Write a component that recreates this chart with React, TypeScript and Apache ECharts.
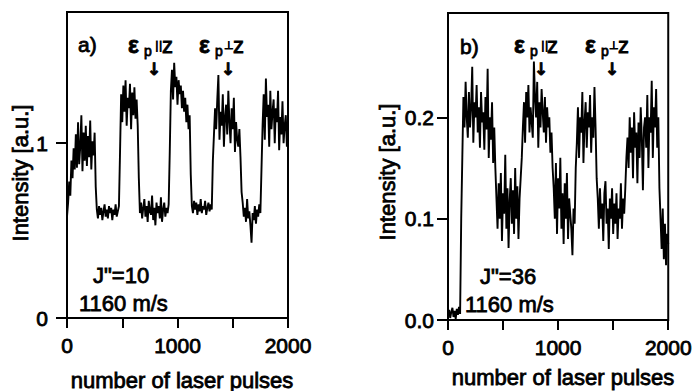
import React, { useEffect, useRef } from "react";
import * as echarts from "echarts";

// Sampling step of the traces (laser pulses between points)
const pulseStep = 10;

// Panel a) J"=10 — intensity every 10 pulses (0..2000)
const intensityA: number[] = [
  0.58, 0.66, 0.78, 0.7, 0.9, 0.8, 0.97, 0.85, 1.05, 0.86, 1.12, 0.88, 0.98, 1.16, 0.84, 1.06, 0.9, 1.1, 0.87, 1.04, 0.92, 1.13, 0.85, 1.01, 0.93, 1.06,
  0.75,
  0.62, 0.57, 0.64, 0.59, 0.63, 0.56, 0.61, 0.65, 0.58, 0.62, 0.57, 0.64, 0.6, 0.63, 0.56, 0.62, 0.59, 0.65, 0.58, 0.61, 0.64,
  0.95,
  1.28, 1.12, 1.33, 1.18, 1.36, 1.1, 1.26, 1.2, 1.34, 1.08, 1.29, 1.16, 1.32, 1.14, 1.25, 1.1,
  0.8,
  0.6, 0.66, 0.57, 0.63, 0.68, 0.58, 0.64, 0.55, 0.67, 0.61, 0.59, 0.7, 0.56, 0.63, 0.53, 0.66, 0.6, 0.64, 0.57, 0.69, 0.55, 0.62, 0.66, 0.58, 0.63, 0.6, 0.65,
  0.95,
  1.3, 1.42, 1.25, 1.46, 1.32, 1.38, 1.22, 1.36, 1.28, 1.33, 1.2, 1.3, 1.18, 1.26, 1.12, 1.22, 1.08, 1.16,
  0.82,
  0.64, 0.6, 0.67, 0.62, 0.66, 0.59, 0.65, 0.61, 0.68, 0.6, 0.64, 0.62, 0.67, 0.59, 0.63, 0.66, 0.61, 0.65, 0.62,
  0.9,
  1.05, 1.2, 1.08, 1.25, 1.39, 1.02, 1.18, 1.1, 1.28, 0.98, 1.15, 1.22, 1.05, 1.3, 1.12, 1.0, 1.2, 1.08, 1.26, 0.95, 1.12, 1.02, 0.98, 1.08, 0.92,
  0.72,
  0.66, 0.58, 0.63, 0.55, 0.68, 0.57, 0.61, 0.53, 0.43, 0.6, 0.56, 0.64, 0.54, 0.62, 0.58, 0.65, 0.6,
  0.85,
  1.1, 1.28, 1.02, 1.37, 1.15, 1.22, 0.98, 1.3, 1.08, 1.18, 1.25, 1.0, 1.2, 1.12, 1.3, 0.96, 1.15, 1.05, 1.24, 1.0, 1.1, 1.16, 0.98, 1.08,
];

// Panel b) J"=36 — intensity every 10 pulses (0..2000)
const intensityB: number[] = [
  0.004, 0.01, 0.002, 0.008, 0.012, 0.003, 0.009, 0.001, 0.011, 0.005, 0.013, 0.006,
  0.1,
  0.16, 0.22, 0.19, 0.235, 0.2, 0.18, 0.225, 0.19, 0.21, 0.25, 0.175, 0.215, 0.2, 0.232, 0.185, 0.21, 0.17, 0.225, 0.195, 0.205, 0.168, 0.22, 0.188, 0.248, 0.16, 0.2, 0.178, 0.215, 0.155, 0.19,
  0.15,
  0.12, 0.09, 0.135, 0.1, 0.145, 0.078, 0.125, 0.105, 0.163, 0.09, 0.13, 0.071, 0.118, 0.14, 0.095, 0.128, 0.085, 0.15, 0.1, 0.132, 0.08, 0.12, 0.14,
  0.16,
  0.19, 0.215, 0.175, 0.225, 0.2, 0.232, 0.185, 0.21, 0.195, 0.18, 0.255, 0.22, 0.2, 0.235, 0.17, 0.215, 0.19, 0.228, 0.205, 0.185, 0.22, 0.175, 0.21, 0.19, 0.2, 0.165, 0.185, 0.15,
  0.13, 0.1, 0.155, 0.085, 0.14, 0.11, 0.16, 0.09, 0.125, 0.075, 0.135, 0.1, 0.145, 0.08, 0.12, 0.105, 0.09, 0.064, 0.11, 0.095,
  0.15,
  0.175, 0.21, 0.16, 0.2, 0.185, 0.225, 0.155, 0.195, 0.215, 0.17, 0.205, 0.19, 0.222, 0.165, 0.2, 0.18, 0.23, 0.19,
  0.14,
  0.12, 0.09, 0.13, 0.1, 0.115, 0.078, 0.125, 0.137, 0.095, 0.11, 0.07, 0.12, 0.1, 0.13, 0.085, 0.115, 0.095, 0.125, 0.08, 0.11, 0.1, 0.135, 0.09, 0.12, 0.105, 0.13,
  0.16,
  0.18, 0.15, 0.2, 0.165, 0.19, 0.14, 0.205, 0.17, 0.185, 0.135, 0.195, 0.16, 0.21, 0.18, 0.128, 0.19, 0.2, 0.17, 0.222, 0.15, 0.2, 0.185, 0.236, 0.16, 0.21, 0.19, 0.228, 0.17, 0.2,
  0.13,
  0.1, 0.07, 0.11, 0.06, 0.095, 0.054, 0.085, 0.075,
];

const xTicks = [0, 500, 1000, 1500, 2000];
const xLabels = [0, 1000, 2000];
const yTicksA = [0, 1];
const yTicksB = [0, 0.1, 0.2];

const FONT = "Liberation Sans, Arial, sans-serif";
const STROKE = 0.8;

export default function App() {
  const ref = useRef<HTMLDivElement>(null);
  useEffect(() => {
    if (!ref.current) return;
    const chart = echarts.init(ref.current, null, { renderer: "svg" });
    const toPairs = (arr: number[]) => arr.map((v, i) => [i * pulseStep, v]);

    const txt = { fontFamily: FONT, color: "#000", textBorderColor: "#000", textBorderWidth: STROKE };

    const xAxisBase = (gridIndex: number) => ({
      type: "value",
      gridIndex,
      min: 0,
      max: 2000,
      position: "bottom",
      axisLine: { show: false, onZero: false },
      splitLine: { show: false },
      axisTick: { show: true, length: 10, lineStyle: { color: "#000", width: 2 }, customValues: xTicks },
      axisLabel: { show: true, margin: 17, fontSize: 21, ...txt, customValues: xLabels, formatter: (v: number) => String(v) },
    });

    const gt = (text: string, x: number, y: number, fontSize: number, extra: any = {}, rotation = 0) => ({
      type: "text",
      x,
      y,
      rotation,
      style: {
        text,
        fontSize,
        fontFamily: FONT,
        fill: "#000",
        stroke: "#000",
        lineWidth: STROKE,
        verticalAlign: "middle",
        ...extra,
      },
    });

    const epsLabel = (x: number, sym: string, symDx: number, zDx: number) => [
      gt("ε", x, 45, 23, { fontWeight: "bold" }),
      gt("p", x + 16, 51, 14),
      gt(sym, x + symDx, 45, 11, { fontFamily: "DejaVu Sans" }),
      gt("z", x + zDx, 45, 22),
    ];
    const arrow = (cx: number) =>
      gt("↓", cx, 69, 17, { align: "center", fontWeight: "bold", fontFamily: "DejaVu Sans" });

    chart.setOption({
      animation: false,
      grid: [
        { left: 67, top: 12, width: 221, height: 306, show: true, borderColor: "#000", borderWidth: 2, backgroundColor: "transparent" },
        { left: 448, top: 13, width: 221, height: 307, show: true, borderColor: "#000", borderWidth: 2, backgroundColor: "transparent" },
      ],
      xAxis: [xAxisBase(0), xAxisBase(1)],
      yAxis: [
        {
          type: "value",
          gridIndex: 0,
          min: 0,
          max: 1.75,
          axisLine: { show: false, onZero: false },
          splitLine: { show: false },
          axisTick: { show: true, length: 11, lineStyle: { color: "#000", width: 2 }, customValues: yTicksA },
          axisLabel: { show: true, margin: 19, fontSize: 21, ...txt, customValues: yTicksA },
        },
        {
          type: "value",
          gridIndex: 1,
          min: 0,
          max: 0.303,
          axisLine: { show: false, onZero: false },
          splitLine: { show: false },
          axisTick: { show: true, length: 11, lineStyle: { color: "#000", width: 2 }, customValues: yTicksB },
          axisLabel: {
            show: true,
            margin: 14,
            fontSize: 21,
            ...txt,
            customValues: yTicksB,
            formatter: (v: number) => v.toFixed(1),
          },
        },
      ],
      series: [
        {
          type: "line",
          xAxisIndex: 0,
          yAxisIndex: 0,
          data: toPairs(intensityA),
          showSymbol: false,
          symbol: "none",
          lineStyle: { color: "#000", width: 1.9 },
        },
        {
          type: "line",
          xAxisIndex: 1,
          yAxisIndex: 1,
          data: toPairs(intensityB),
          showSymbol: false,
          symbol: "none",
          lineStyle: { color: "#000", width: 1.9 },
        },
      ],
      graphic: [
        // axis titles
        gt("Intensity [a.u.]", 20, 173, 22, { align: "center" }, Math.PI / 2),
        gt("Intensity [a.u.]", 387, 172, 22, { align: "center" }, Math.PI / 2),
        gt("number of laser pulses", 182, 380, 22, { align: "center" }),
        gt("number of laser pulses", 563, 377, 22, { align: "center" }),
        // panel labels
        gt("a)", 78, 44, 21),
        gt("b)", 460, 46, 21),
        ...epsLabel(128, "||", 27, 34),
        ...epsLabel(199, "⊥", 25, 34),
        ...epsLabel(514, "||", 27, 33),
        ...epsLabel(585, "⊥", 24, 33),
        arrow(154),
        arrow(228),
        arrow(541),
        arrow(612),
        gt('J"=10', 93, 275, 22),
        gt("1160 m/s", 79, 303, 22),
        gt('J"=36', 480, 276, 22),
        gt("1160 m/s", 465, 304, 22),
      ],
    });
    return () => chart.dispose();
  }, []);
  return <div ref={ref} style={{ position: "fixed", left: 0, top: 0, width: 695, height: 391, background: "#fff" }} />;
}
